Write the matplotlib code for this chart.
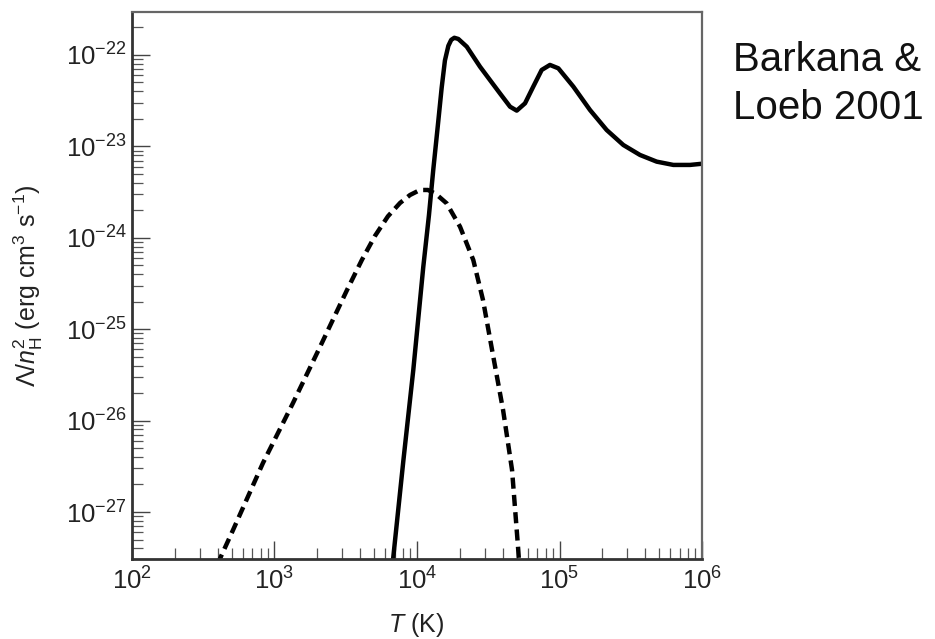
import numpy as np
import matplotlib
matplotlib.use("Agg")
import matplotlib.pyplot as plt
from matplotlib.ticker import LogLocator, NullFormatter

# ---- data (log10 values) ----
solid_logT = [3.81, 3.833, 3.904, 3.974, 4.044, 4.084, 4.114, 4.149, 4.173, 4.196,
              4.220, 4.240, 4.262, 4.290, 4.349, 4.442, 4.510, 4.582, 4.653, 4.700,
              4.758, 4.816, 4.875, 4.933, 4.992, 5.097, 5.214, 5.331, 5.448, 5.565,
              5.682, 5.799, 5.916, 6.0]
solid_logL = [-27.85, -27.503, -26.442, -25.446, -24.320, -23.751, -23.258, -22.73,
              -22.36, -22.06, -21.90, -21.835, -21.812, -21.825, -21.909, -22.128,
              -22.27, -22.42, -22.566, -22.609, -22.529, -22.346, -22.164, -22.109,
              -22.146, -22.346, -22.602, -22.821, -22.985, -23.094, -23.167, -23.203,
              -23.203, -23.19]

dashed_logT = [2.55, 2.629, 2.709, 2.919, 3.130, 3.319, 3.509, 3.614, 3.705, 3.796,
               3.881, 3.951, 4.021, 4.077, 4.133, 4.208, 4.302, 4.395, 4.463, 4.533,
               4.604, 4.667, 4.709, 4.723]
dashed_logL = [-27.75, -27.470, -27.197, -26.464, -25.807, -25.195, -24.571, -24.24,
               -23.98, -23.765, -23.619, -23.532, -23.477, -23.477, -23.521, -23.623,
               -23.879, -24.243, -24.68, -25.28, -25.884, -26.540, -27.383, -27.69]

xtick_vals = [1e2, 1e3, 1e4, 1e5, 1e6]
xtick_labels = [r"$10^{2}$", r"$10^{3}$", r"$10^{4}$", r"$10^{5}$", r"$10^{6}$"]
ytick_vals = [1e-27, 1e-26, 1e-25, 1e-24, 1e-23, 1e-22]
ytick_labels = [r"$10^{-27}$", r"$10^{-26}$", r"$10^{-25}$", r"$10^{-24}$",
                r"$10^{-23}$", r"$10^{-22}$"]

plt.rcParams['font.family'] = ['Liberation Sans', 'DejaVu Sans']
plt.rcParams['mathtext.fontset'] = 'custom'
plt.rcParams['mathtext.rm'] = 'Liberation Sans'
plt.rcParams['mathtext.it'] = 'Liberation Sans:italic'
plt.rcParams['mathtext.bf'] = 'Liberation Sans:bold'

fig = plt.figure(figsize=(9.35, 6.39), dpi=100)
ax = fig.add_axes([132/935, 1-559/639, (702-132)/935, (559-12)/639])

T_s = 10 ** np.array(solid_logT)
L_s = 10 ** np.array(solid_logL)
T_d = 10 ** np.array(dashed_logT)
L_d = 10 ** np.array(dashed_logL)

ax.plot(T_s, L_s, color='black', lw=3.2, solid_joinstyle='round', solid_capstyle='round')
ax.plot(T_d, L_d, color='black', lw=3.2, dashes=(2.5, 1.4))

ax.set_xscale('log')
ax.set_yscale('log')
ax.set_xlim(1e2, 1e6)
ax.set_ylim(10 ** -27.514, 10 ** -21.53)

ax.set_xticks(xtick_vals)
ax.set_xticklabels(xtick_labels)
ax.set_yticks(ytick_vals)
ax.set_yticklabels(ytick_labels)
ax.xaxis.set_minor_locator(LogLocator(base=10, subs=np.arange(2, 10), numticks=20))
ax.yaxis.set_minor_locator(LogLocator(base=10, subs=np.arange(2, 10), numticks=20))
ax.xaxis.set_minor_formatter(NullFormatter())
ax.yaxis.set_minor_formatter(NullFormatter())

ax.tick_params(which='major', direction='in', length=13, width=1.0, color='#444444',
               labelsize=18.5, top=False, right=False, labelcolor='#222222')
ax.tick_params(which='minor', direction='in', length=8, width=0.9, color='#555555',
               top=False, right=False)
ax.tick_params(axis='y', which='major', pad=4)
ax.tick_params(axis='x', which='major', pad=6)

for s in ['left', 'bottom']:
    ax.spines[s].set_linewidth(2.0)
    ax.spines[s].set_color('#333333')
for s in ['top', 'right']:
    ax.spines[s].set_linewidth(1.6)
    ax.spines[s].set_color('#666666')

ax.set_xlabel(r"$\mathit{T}$ (K)", fontsize=18, color='#222222')
ax.xaxis.set_label_coords((416-132)/570, (559-625)/547)
ax.xaxis.label.set_va('center')
ax.set_ylabel(r"$\mathit{\Lambda}/\mathit{n}_{\mathrm{H}}^{2}$ (erg cm$^{3}$ s$^{-1}$)",
              fontsize=18, color='#222222')
ax.yaxis.set_label_coords((28-132)/570, (559-286)/547)
ax.yaxis.label.set_va('center')

fig.text(733/935, 1-60/639, "Barkana &", fontsize=29, color='#111111',
         ha='left', va='center')
fig.text(733/935, 1-108/639, "Loeb 2001", fontsize=29, color='#111111',
         ha='left', va='center')

fig.savefig("out.png", dpi=100, facecolor='white')
